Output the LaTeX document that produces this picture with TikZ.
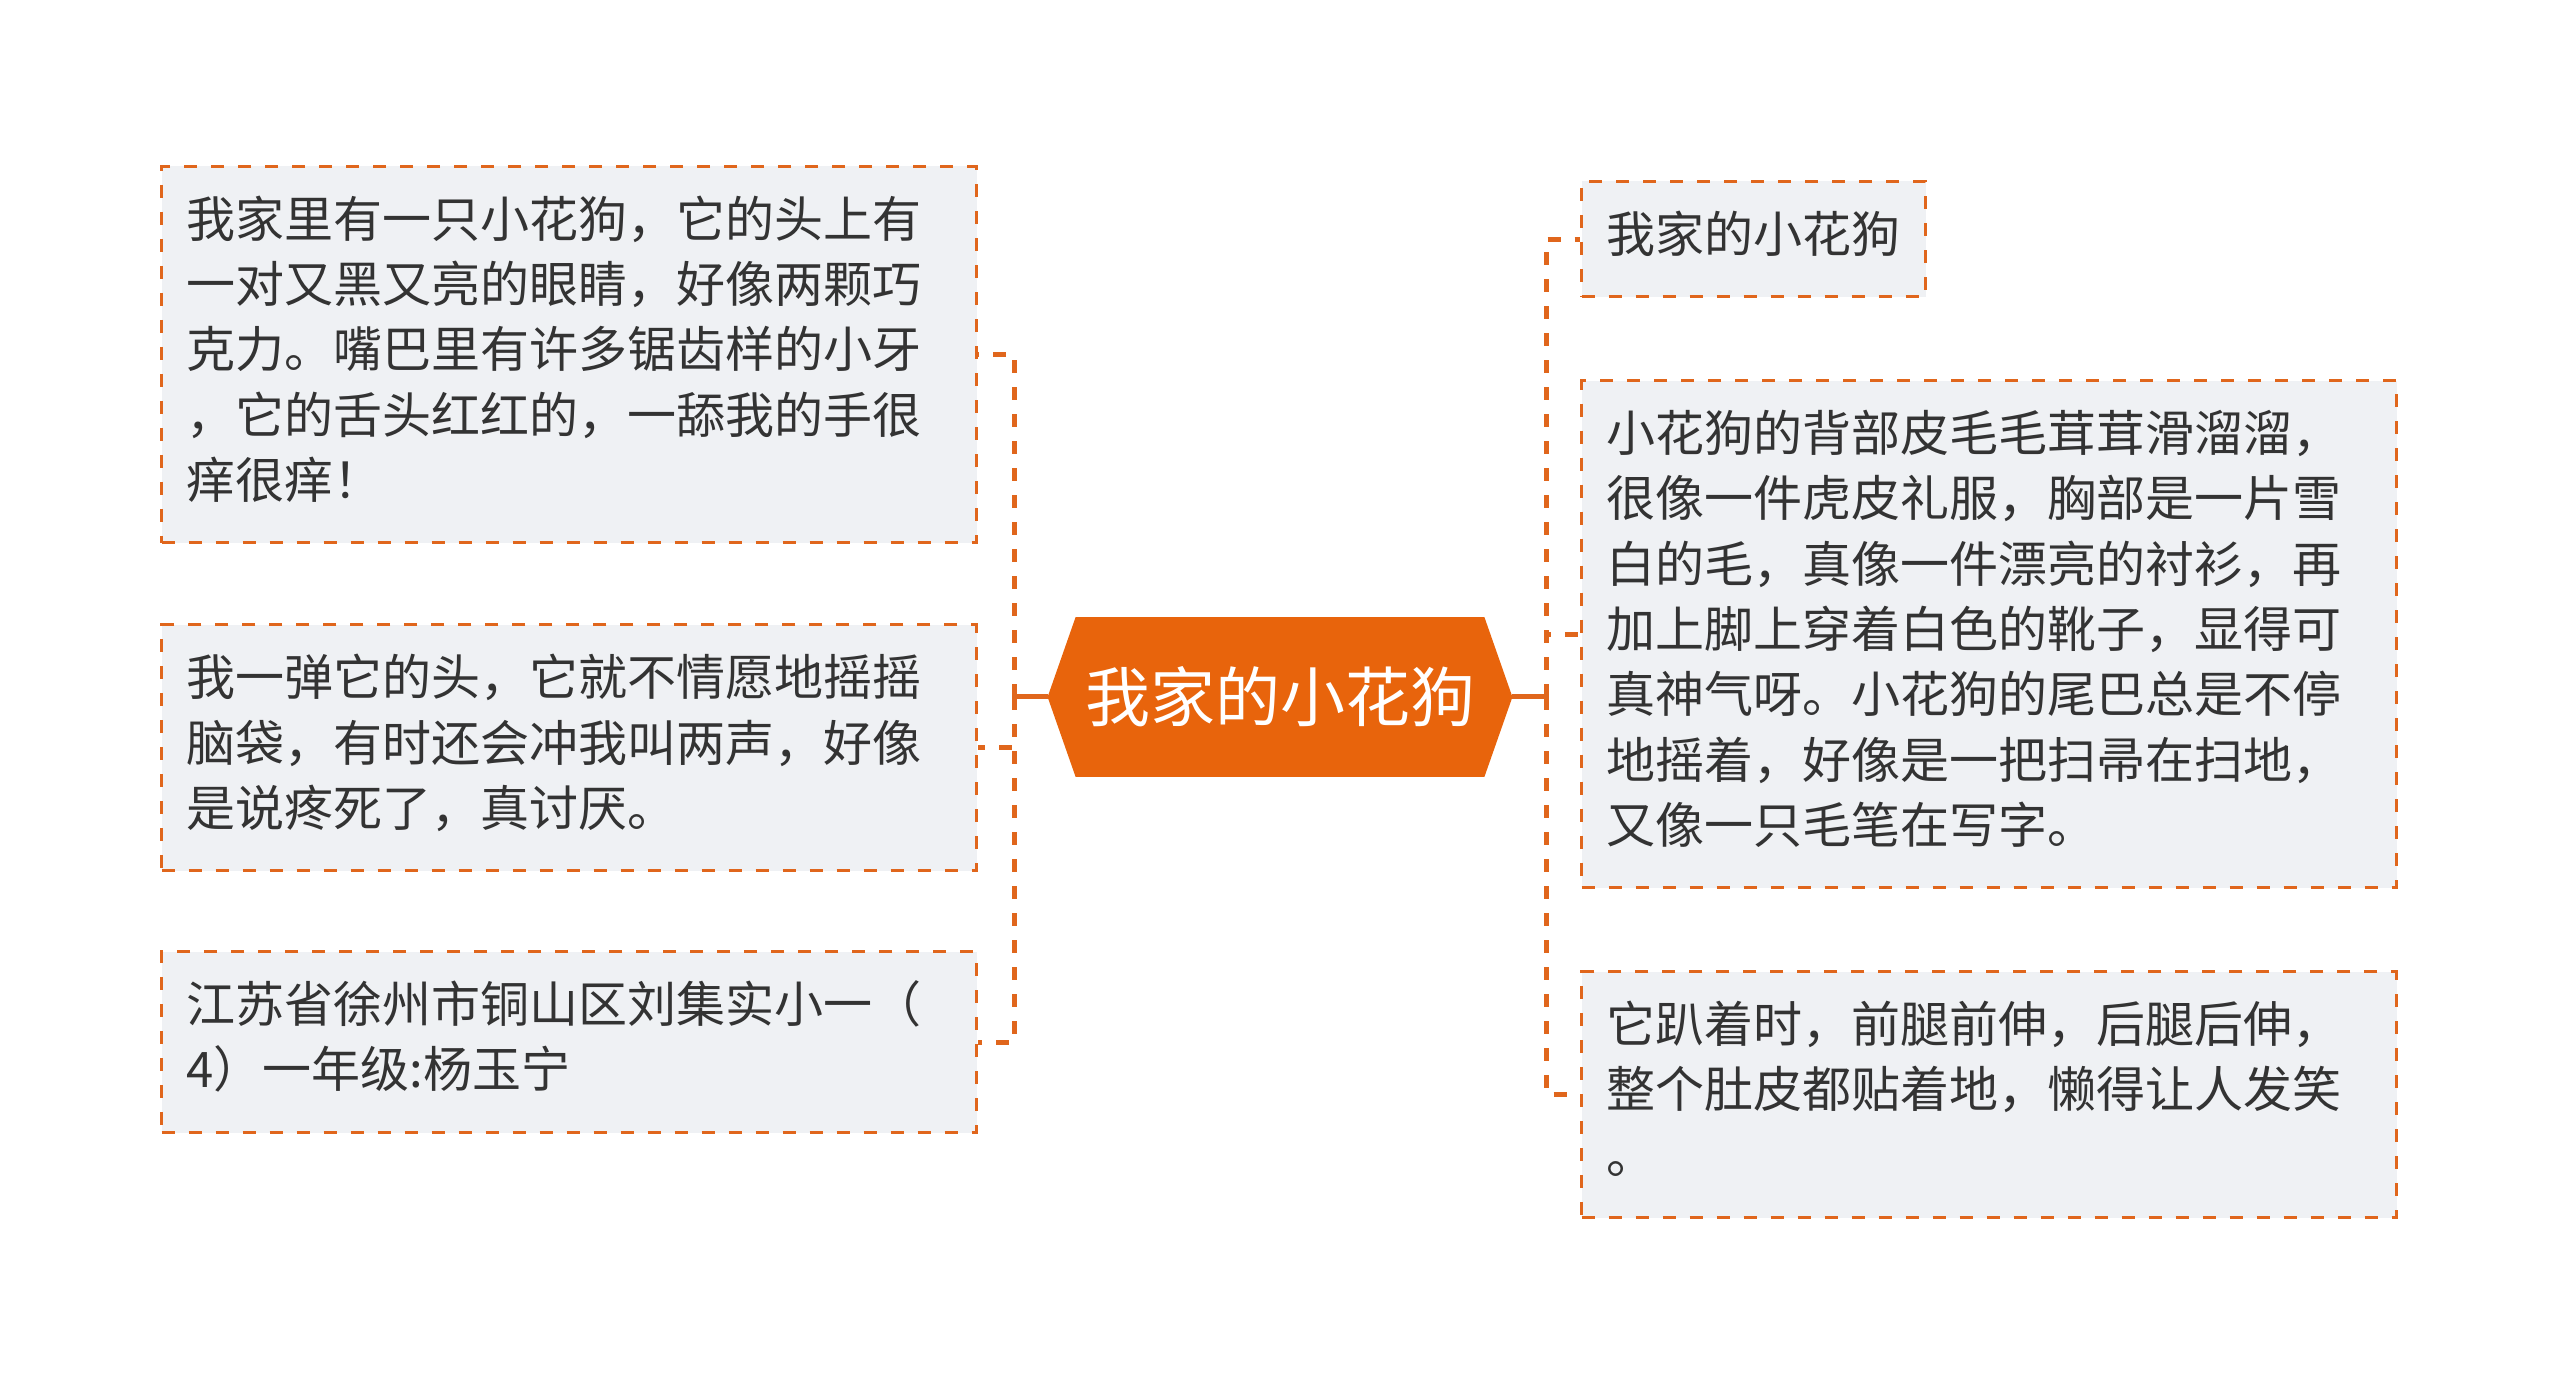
\documentclass[tikz,border=0pt]{standalone}
\usepackage{fontspec}
\setmainfont{Noto Sans CJK SC}
\usepackage{tikz}
\usepackage{xcolor}
\usetikzlibrary{positioning, backgrounds}
\definecolor{dogorange}{RGB}{232,100,12}
\definecolor{linkorange}{RGB}{224,102,28}
\definecolor{leafgray}{RGB}{239,241,244}
\definecolor{inkgray}{RGB}{51,51,51}
\tikzset{
        x=1pt, y=-1pt, % one unit is half a pixel, y runs downwards
        every node/.style={text=inkgray}, % dark gray text everywhere
        leaf/.style={draw=linkorange, line width=1.5pt, dash pattern=on 6.5pt off 7pt, fill=leafgray,
            inner sep=12.5pt, font=\fontsize{24.5pt}{32.65pt}\selectfont,
            execute at begin node=\strut, execute at end node=\strut},
    }
\tikzstyle{wideleaf}=[leaf, text width=382.5pt, align=left]
\tikzstyle{hub}=[text=white, font=\fontsize{32.5pt}{40pt}\selectfont, minimum width=204pt, minimum height=79.5pt, inner sep=0pt]
\tikzstyle{link}=[draw=linkorange, line width=2.5pt, dash pattern=on 6.5pt off 7pt]

\begin{document}
\begin{tikzpicture}
    \useasboundingbox (0,0) rectangle (1280,689.5);

    % centre
    \node[hub] (ctr) at (640,348.5) {我家的小花狗};
    \coordinate (ctrL) at ([xshift=-14pt]ctr.west);
    \coordinate (ctrR) at ([xshift=14pt]ctr.east);
    \coordinate (forkL) at ([xshift=-16.5pt]ctrL);
    \coordinate (forkR) at ([xshift=17pt]ctrR);

    % left side
    \node[wideleaf, anchor=north east] (L1) at (489,82.5)
        {我家里有一只小花狗，它的头上有\\一对又黑又亮的眼睛，好像两颗巧\\克力。嘴巴里有许多锯齿样的小牙\\，它的舌头红红的，一舔我的手很\\痒很痒！};
    \node[wideleaf, below=39.5pt of L1] (L2)
        {我一弹它的头，它就不情愿地摇摇\\脑袋，有时还会冲我叫两声，好像\\是说疼死了，真讨厌。};
    \node[wideleaf, below=39pt of L2] (L3)
        {江苏省徐州市铜山区刘集实小一（\\4）一年级:杨玉宁};

    % right side
    \node[leaf, anchor=north west] (R1) at (790,90) {我家的小花狗};
    \node[wideleaf, below=40.5pt of R1.south west, anchor=north west] (R2)
        {小花狗的背部皮毛毛茸茸滑溜溜，\\很像一件虎皮礼服，胸部是一片雪\\白的毛，真像一件漂亮的衬衫，再\\加上脚上穿着白色的靴子，显得可\\真神气呀。小花狗的尾巴总是不停\\地摇着，好像是一把扫帚在扫地，\\又像一只毛笔在写字。};
    \node[wideleaf, below=40.5pt of R2.south west, anchor=north west] (R3)
        {它趴着时，前腿前伸，后腿后伸，\\整个肚皮都贴着地，懒得让人发笑\\。};

    % connectors
    \draw[link, solid] (ctrL) -- (forkL);
    \draw[link, solid] (ctrR) -- (forkR);
    \foreach \n in {L1, L2, L3}
        \draw[link] (forkL) |- (\n.east);
    \foreach \n in {R1, R2, R3}
        \draw[link] (forkR) |- (\n.west);

    \begin{scope}[on background layer]
        \fill[white] (0,0) rectangle (1280,689.5);
        \fill[dogorange] (ctrL) -- (ctr.north west) -- (ctr.north east) -- (ctrR)
            -- (ctr.south east) -- (ctr.south west) -- cycle;
    \end{scope}
\end{tikzpicture}
\end{document}
